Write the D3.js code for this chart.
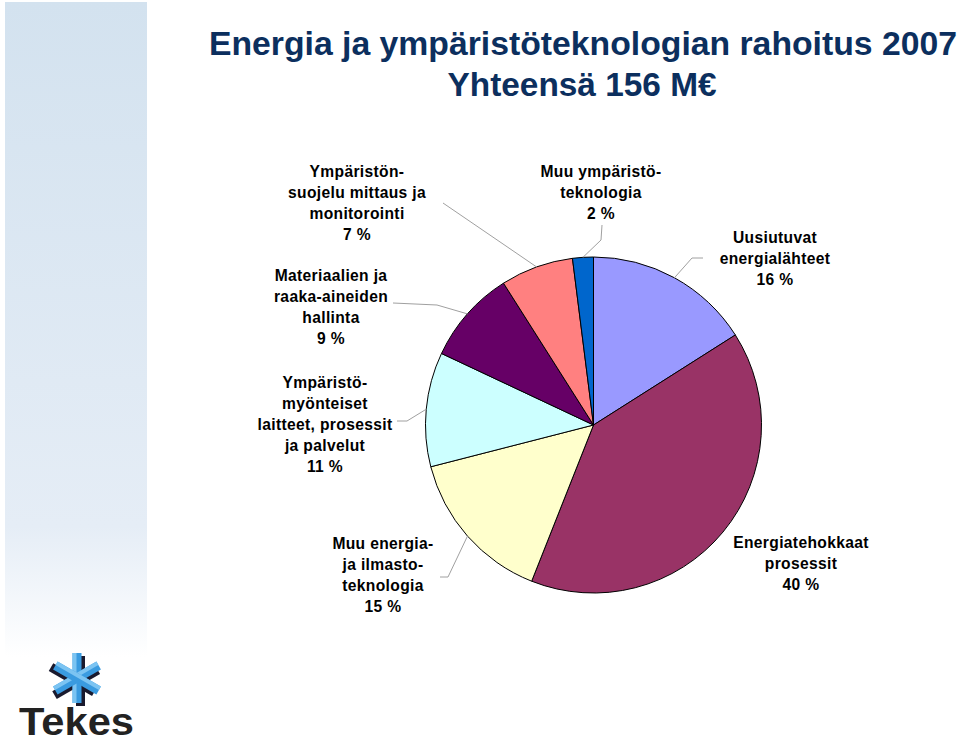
<!DOCTYPE html>
<html><head><meta charset="utf-8">
<script src="https://cdn.jsdelivr.net/npm/d3@7"></script>
<style>body{margin:0;background:#fff}svg{display:block}</style>
</head><body>
<svg id="c" width="960" height="738"></svg>
<script>
const categories = ["Uusiutuvat energialähteet","Energiatehokkaat prosessit","Muu energia- ja ilmastoteknologia","Ympäristömyönteiset laitteet, prosessit ja palvelut","Materiaalien ja raaka-aineiden hallinta","Ympäristönsuojelu mittaus ja monitorointi","Muu ympäristöteknologia"];
const values = [16, 40, 15, 11, 9, 7, 2];
const colors = ["#9999FF","#993366","#FFFFCC","#CCFFFF","#660066","#FF8080","#0066CC"];
const labelLines = [
  ["Uusiutuvat","energialähteet","16 %"],
  ["Energiatehokkaat","prosessit","40 %"],
  ["Muu energia-","ja ilmasto-","teknologia","15 %"],
  ["Ympäristö-","myönteiset","laitteet, prosessit","ja palvelut","11 %"],
  ["Materiaalien ja","raaka-aineiden","hallinta","9 %"],
  ["Ympäristön-","suojelu mittaus ja","monitorointi","7 %"],
  ["Muu ympäristö-","teknologia","2 %"]
];
const titleLines = ["Energia ja ympäristöteknologian rahoitus 2007","Yhteensä 156 M€"];

// layout (not data)
const labelPos = [[775,243],[801,548],[383,549],[325,388],[331,281],[357,177],[601,177]];
const leaderStart = [[[703,258],[692,258]],null,[[440,577],[448,577]],[[397,421],[407,421]],[[393,303],[437,305]],[[443,203]],[[602,225],[601,240]]];

const svg = d3.select("#c");
const defs = svg.append("defs");
const grad = defs.append("linearGradient").attr("id","strip").attr("x1",0).attr("y1",0).attr("x2",0).attr("y2",1);
grad.append("stop").attr("offset","0").attr("stop-color","#d3e2ef");
grad.append("stop").attr("offset","0.8").attr("stop-color","#e5edf6");
grad.append("stop").attr("offset","1").attr("stop-color","#ffffff");
svg.append("rect").attr("x",5).attr("y",2).attr("width",142).attr("height",655).attr("fill","url(#strip)");

// title
svg.append("text").attr("x",583).attr("y",55).attr("text-anchor","middle")
  .attr("font-family","Liberation Sans, Arial, sans-serif").attr("font-weight","bold").attr("font-size",33)
  .attr("fill","#0c2f5e").attr("textLength",748).attr("lengthAdjust","spacingAndGlyphs").text(titleLines[0]);
svg.append("text").attr("x",582).attr("y",96).attr("text-anchor","middle")
  .attr("font-family","Liberation Sans, Arial, sans-serif").attr("font-weight","bold").attr("font-size",33)
  .attr("fill","#0c2f5e").attr("textLength",269).attr("lengthAdjust","spacingAndGlyphs").text(titleLines[1]);

// pie
const cx = 593.5, cy = 425, R = 168;
const pie = d3.pie().sort(null).value(d=>d);
const arcs = pie(values);
const arc = d3.arc().innerRadius(0).outerRadius(R);
const g = svg.append("g").attr("transform",`translate(${cx},${cy})`);
g.selectAll("path").data(arcs).join("path").attr("d",arc)
  .attr("fill",(d,i)=>colors[i]).attr("stroke","#000").attr("stroke-width",1);

// leaders
arcs.forEach((a,i)=>{
  if(!leaderStart[i]) return;
  const m = (a.startAngle+a.endAngle)/2;
  const end = [cx + R*Math.sin(m), cy - R*Math.cos(m)];
  const pts = leaderStart[i].concat([end]);
  svg.append("polyline").attr("points",pts.map(p=>p.join(",")).join(" "))
    .attr("fill","none").attr("stroke","#a0a0a0").attr("stroke-width",1);
});

// labels
labelLines.forEach((lines,i)=>{
  const t = svg.append("text").attr("text-anchor","middle")
    .attr("font-family","Liberation Sans, Arial, sans-serif").attr("font-weight","bold")
    .attr("font-size",15.6).attr("letter-spacing",0.35).attr("fill","#000");
  lines.forEach((l,j)=>{
    t.append("tspan").attr("x",labelPos[i][0]).attr("y",labelPos[i][1]+j*20.9).text(l);
  });
});

// Tekes logo
const lg = svg.append("g").attr("transform","translate(77,678)");
[0,60,120].forEach(r=>{
  lg.append("rect").attr("x",-3).attr("y",-24).attr("width",9).attr("height",50)
    .attr("fill","#1a1a2e").attr("transform",`rotate(${r}) translate(2,2)`);
});
[0,60,120].forEach(r=>{
  lg.append("rect").attr("x",-4.5).attr("y",-25).attr("width",9).attr("height",50)
    .attr("fill","#3a9be0").attr("transform",`rotate(${r})`);
  lg.append("rect").attr("x",-4.5).attr("y",-25).attr("width",4).attr("height",50)
    .attr("fill","#7cc4f2").attr("transform",`rotate(${r})`);
});
svg.append("text").attr("x",19).attr("y",735).attr("font-family","Liberation Sans, Arial, sans-serif")
  .attr("font-weight","bold").attr("font-size",38).attr("fill","#222")
  .attr("textLength",115).attr("lengthAdjust","spacingAndGlyphs").text("Tekes");
</script>
</body></html>
